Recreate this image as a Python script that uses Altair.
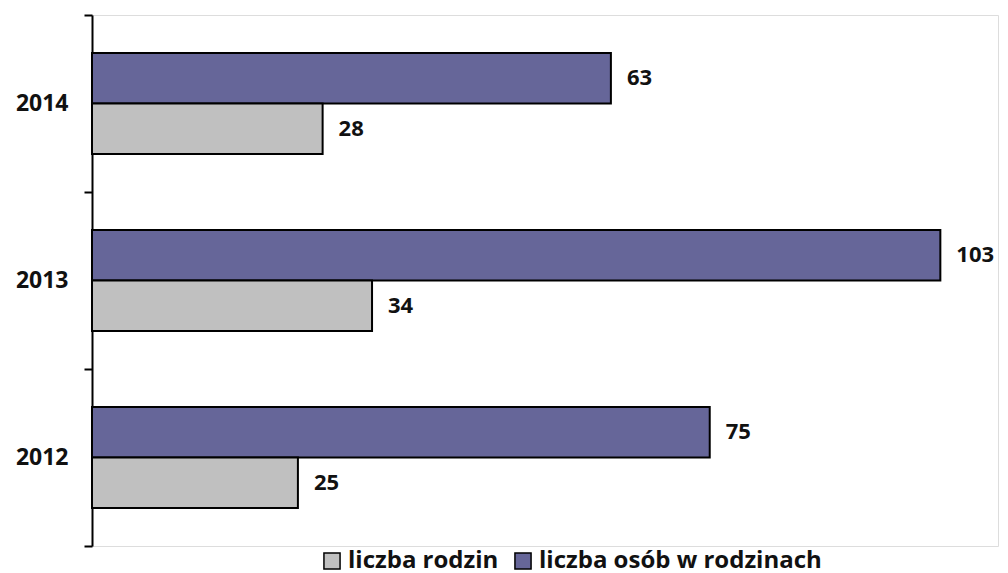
import altair as alt
import pandas as pd

years = ["2014", "2013", "2012"]
rodziny = [28, 34, 25]
osoby = [63, 103, 75]
series_names = ["liczba rodzin", "liczba osób w rodzinach"]
colors = ["#C0C0C0", "#666699"]

rows = []
for y, r, o in zip(years, rodziny, osoby):
    rows.append({"rok": y, "seria": series_names[1], "wartosc": o})
    rows.append({"rok": y, "seria": series_names[0], "wartosc": r})
df = pd.DataFrame(rows)

FONT = "Open Sans"

y_enc = alt.Y("rok:N", sort=years, title=None,
              scale=alt.Scale(paddingInner=0, paddingOuter=0),
              axis=alt.Axis(labelFontSize=23, labelFontWeight="bold", labelColor="#111",
                            labelFont=FONT, domainColor="#000", domainWidth=2,
                            tickColor="#000", tickWidth=2, tickSize=8, tickBand="extent",
                            labelPadding=16, grid=False))
yoff = alt.YOffset("seria:N", sort=[series_names[1], series_names[0]],
                   scale=alt.Scale(paddingInner=0, paddingOuter=0.75))
x_enc = alt.X("wartosc:Q", scale=alt.Scale(domain=[0, 110], nice=False), axis=None)

bars = alt.Chart(df).mark_bar(stroke="#000", strokeWidth=2).encode(
    y=y_enc, yOffset=yoff, x=x_enc,
    color=alt.Color("seria:N", sort=series_names,
                    scale=alt.Scale(domain=series_names, range=colors),
                    legend=alt.Legend(title=None, orient="none", direction="horizontal",
                                      legendX=228, legendY=534, labelFontSize=24,
                                      labelFont=FONT, labelFontWeight="bold", labelColor="#111",
                                      symbolType="square", symbolSize=260,
                                      symbolStrokeColor="#000", symbolStrokeWidth=1.5,
                                      columnPadding=12, labelOffset=4, labelLimit=400)),
)

labels = alt.Chart(df).mark_text(align="left", baseline="middle", dx=16, fontSize=22,
                                 fontWeight="bold", font=FONT, color="#111").encode(
    y=alt.Y("rok:N", sort=years), yOffset=yoff, x=x_enc, text="wartosc:Q"
)

chart = alt.layer(bars, labels).properties(
    width=906, height=531,
    padding={"left": 84, "top": 7, "right": 2, "bottom": 34},
    autosize=alt.AutoSizeParams(type="none"),
).configure_view(stroke=None).configure(background="white")

chart.save("out.html", embed_options={"renderer": "svg", "actions": False})
